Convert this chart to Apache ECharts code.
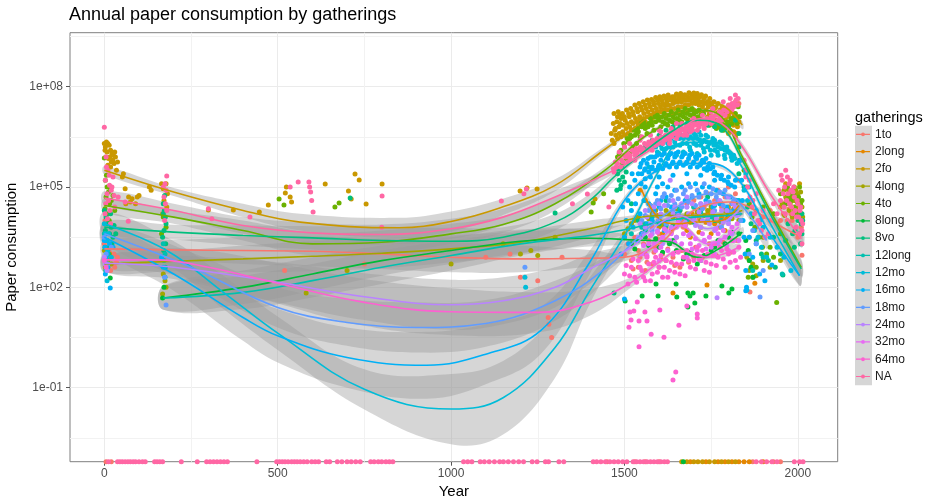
<!DOCTYPE html>
<html>
<head>
<meta charset="utf-8">
<script src="https://cdn.jsdelivr.net/npm/echarts@6.0.0/dist/echarts.min.js"></script>
<style>
  html, body { margin: 0; padding: 0; background: #fff; }
  #chart { width: 936px; height: 504px; }
</style>
</head>
<body>
<div id="chart"></div>
<script>
// groups and ggplot hue colours
const groups = ['1to', '2long', '2fo', '4long', '4to', '8long', '8vo', '12long', '12mo', '16mo', '18mo', '24mo', '32mo', '64mo', 'NA'];
const colors = ['#F8766D', '#E58700', '#C99800', '#A3A500', '#6BB100', '#00BA38', '#00BF7D', '#00C0AF', '#00BCD8', '#00B0F6', '#619CFF', '#B983FF', '#E76BF3', '#FD61D1', '#FF67A4'];

// all y values are log10(paper consumption)
const yMin = -3.214, yMax = 9.615;
const xMin = -99, xMax = 2115;
const yTicks = [-1, 2, 5, 8];
const yTickLabels = ['1e-01', '1e+02', '1e+05', '1e+08'];
const yMinor = [-2.5, 0.5, 3.5, 6.5, 9.5];
const xTicks = [0, 500, 1000, 1500, 2000];
const xMinor = [250, 750, 1250, 1750];

// ---- points [year, log10 paper] ----
const pts_1to = [[0,3.3],[3,2.9],[5,3.6],[8,2.8],[10,2.95],[12,2.6],[15,3.05],[18,2.5],[20,2.9],[25,2.7],[28,3.0],[30,2.6],[35,2.75],[2,4.0],[22,3.2],[38,2.9],
  [170,2.9],[175,2.6],[520,2.5],[750,2.7],[1100,2.9],[1170,3.0],[1200,2.3],[1250,2.2],[1320,2.9],[1280,1.1],[1282,0.9],[1290,0.5],
  [1500,3.0],[1510,3.3],[1520,2.8],[1530,3.5],[1540,3.1],[1550,3.6],[1560,3.0],[1570,3.4],[1580,3.8],[1590,3.2],[1600,3.6],[1610,3.0],[1620,3.9],[1630,3.3],[1640,4.1],[1650,3.5],[1660,4.3],[1670,3.8],[1680,4.5],[1690,4.0],[1700,4.6],[1710,4.2],[1720,4.7],[1730,4.4],[1740,4.8],[1750,4.3],[1760,4.6],[1770,4.9],[1780,4.4],[1790,4.7],[1800,5.0],[1810,4.5],[1820,4.8],[1830,5.2],
  [1540,2.6],[1560,2.5],[1580,2.7],[1600,2.6],[1620,2.8],[1640,2.9],[1660,2.6],[1680,3.0],[1700,2.9],[1862,1.86],
  [1525,2.55],[1545,2.9],[1565,2.75],[1585,3.05],[1605,2.85],[1625,3.15],[1645,2.65],[1665,3.1],[1685,2.75],[1705,3.2],[1725,2.9],[1745,3.3],[1765,2.95],[1785,3.35],[1805,3.05],[1825,3.4],
  [1555,3.3],[1595,3.45],[1635,3.65],[1675,3.9],[1715,4.05],[1755,4.15],[1795,4.25],
  [1790,7.3],[1800,7.45],[1810,7.35],[1820,7.55],[1830,7.5],[1815,7.2],[1795,7.15],
  [1860,3.5],[1880,3.8],[1900,4.1],[1920,4.3],[1940,3.9],[1960,4.5],[1980,4.2],[2000,3.5],[2012,2.96],[1970,4.0],[1990,4.7],
  [1950,4.0],[1958,4.2],[1966,4.6],[1974,4.35],[1984,4.0],[1994,4.3],[2004,4.0],[2010,3.8]];
const pts_2long = [[1545,4.9],[1560,4.6],[1580,4.3],[1600,4.0],[1610,3.6],[1620,3.8],[1640,4.1],[1660,3.9],[1680,3.7],[1690,3.5],[1700,4.0],[1720,3.8],[1740,4.2],[1750,3.6],[1760,3.9],[1780,4.1],[1790,3.7],[1800,4.4],[1820,4.6],[1830,4.2],
  [1575,4.45],[1595,4.15],[1615,3.95],[1635,3.75],[1655,4.05],[1675,3.85],[1695,4.2],[1715,3.65],[1735,3.95],[1755,4.25],[1775,3.8],[1795,4.05],[1815,4.35],
  [1640,1.83],[1738,2.07],[1876,2.12],[1870,2.6],[1950,4.4],[1980,4.7]];
const pts_2fo = [[0,6.3],[2,6.1],[3,6.2],[5,5.9],[6,6.35],[8,6.05],[10,6.3],[10,5.65],[12,5.85],[14,6.25],[16,5.9],[18,6.1],[18,5.6],[20,5.75],[22,6.0],[24,5.8],[26,5.95],[28,5.7],[30,6.05],[32,5.9],[35,5.5],[38,5.75],
  [52,5.3],[55,5.4],[60,4.95],[62,4.5],[70,4.7],[75,4.55],[80,4.65],[90,4.5],[95,4.7],[100,4.75],[130,5.0],[135,4.9],
  [165,5.1],[168,4.2],[170,4.95],[172,4.6],[178,5.1],[180,4.4],[182,4.8],
  [300,4.31],[372,4.31],[447,4.25],[473,4.46],[522,4.82],[525,5.0],[536,4.7],[540,4.55],[637,5.09],[704,4.88],[712,4.64],[723,5.39],[735,5.21],[755,4.49],[801,5.09],
  [1199,4.88],[1219,4.97],[1248,4.94],[1415,4.64],
  [1462,6.6],[1468,6.9],[1472,6.7],[1478,6.95],[1484,6.8],[1490,7.05],[1496,6.85],[1502,7.0],[1508,6.9],[1514,7.1],[1520,6.95],[1526,7.15],[1532,7.05],[1538,7.25],[1544,7.1],[1550,7.3],[1556,7.2],[1562,7.35],[1568,7.25],[1574,7.4],[1580,7.3],[1586,7.45],[1592,7.35],[1598,7.5],[1604,7.4],[1610,7.5],[1616,7.45],[1622,7.55],[1628,7.45],[1634,7.6],[1640,7.5],[1646,7.6],[1652,7.55],[1658,7.65],[1664,7.55],[1670,7.65],[1676,7.6],[1682,7.7],[1688,7.6],[1694,7.75],[1700,7.65],[1706,7.7],[1712,7.6],[1718,7.7],[1724,7.55],[1730,7.65],[1736,7.5],[1742,7.4],[1748,7.5],[1754,7.3],[1760,7.35],[1766,7.2],[1772,7.25],[1778,7.1],[1784,7.2],[1790,7.0],[1796,7.1],[1802,6.9],[1808,7.0],[1814,6.85],[1820,6.9],[1826,6.8],[1830,6.95],
  [1465,6.4],[1475,6.55],[1485,6.6],[1495,6.65],[1505,6.75],[1515,6.8],[1525,6.9],[1535,6.95],[1545,7.0],[1555,7.05],[1565,7.1],[1575,7.15],[1585,7.2],[1595,7.25],[1605,7.25],[1615,7.3],[1625,7.3],[1635,7.35],[1645,7.35],[1655,7.4],[1665,7.4],[1675,7.45],[1685,7.45],[1695,7.5],[1705,7.5],[1715,7.45],[1725,7.4],[1735,7.3],[1745,7.2],[1755,7.1],[1765,7.0],[1775,6.9],[1785,6.85],[1795,6.8],[1805,6.7],[1815,6.65],[1825,6.6],
  [1470,7.2],[1482,7.25],[1494,7.2],[1506,7.3],[1518,7.35],[1530,7.45],[1542,7.5],[1554,7.55],[1566,7.6],[1578,7.62],[1590,7.68],[1602,7.7],[1614,7.72],[1626,7.75],[1638,7.7],[1650,7.78],[1662,7.8],[1674,7.76],[1686,7.82],[1698,7.78],[1710,7.8],[1722,7.76],[1734,7.72],[1746,7.65],[1758,7.55],[1770,7.5],[1782,7.4],[1794,7.35],[1806,7.25],[1818,7.15],[1828,7.1],
  [1470,6.3],[1480,6.45],[1490,6.5],[1500,6.55],[1510,6.6],[1520,6.7],[1530,6.75],[1540,6.85],[1560,6.95],[1580,7.05],[1600,7.1],[1620,7.15],[1640,7.2],[1660,7.25],[1680,7.3],[1700,7.3],[1720,7.25],[1740,7.1],[1760,6.9],[1780,6.75],[1800,6.6],[1820,6.5],
  [1474,6.75],[1488,6.9],[1500,7.1],[1512,7.2],[1524,7.25],[1536,7.35],[1548,7.4],[1560,7.45],[1572,7.5],[1584,7.55],[1596,7.6],[1608,7.6],[1620,7.65],[1632,7.65],[1644,7.7],[1656,7.7],[1668,7.72],[1680,7.6],[1692,7.68],[1704,7.62],[1716,7.55],[1728,7.5],[1740,7.55],[1752,7.45],[1764,7.4],[1776,7.3],[1788,7.25],[1800,7.15],[1812,7.05],[1824,7.0],
  [1700,7.81],[1480,7.1],[1486,7.15],
  [1600,3.8],[1640,4.2],[1850,3.0],[1860,2.8],[1965,5.1],[1990,4.6],[2005,5.1],[1985,4.2]];
const pts_4long = [[0,3.1],[5,2.9],[10,2.8],[15,3.0],[3,2.6],[20,2.7],[170,2.4],[175,2.2],[178,2.0],[168,1.8],
  [582,1.83],[700,2.5],[1000,2.7],[1150,3.3],[1200,3.0],[1230,3.1],[1250,2.95],[1300,3.5],[1467,4.55],
  [1500,3.6],[1520,3.9],[1540,4.1],[1560,3.8],[1580,4.2],[1600,4.0],[1620,4.3],[1640,4.1],[1660,3.9],[1680,4.2],[1700,4.4],[1720,4.0],[1740,4.3],[1760,4.1],[1780,3.9],[1800,4.2],[1820,4.5],[1830,4.0],
  [1510,3.75],[1530,4.0],[1550,3.95],[1570,4.05],[1590,4.3],[1610,3.85],[1630,4.2],[1650,4.35],[1670,4.05],[1690,3.95],[1710,4.25],[1730,4.15],[1750,4.4],[1770,4.0],[1790,4.3],[1810,4.05],
  [1853,2.9],[1860,2.5],[1870,2.7],[1880,2.35],[1900,2.8],[1920,2.6],[1950,2.8],
  [1960,4.9],[1985,4.6],[2000,4.8],[1995,4.4],[2010,4.2],[1975,4.3],[1990,5.0],
  [1955,4.5],[1965,4.7],[1970,4.95],[1978,4.5],[1982,4.8],[1988,4.35],[1993,4.75],[1998,4.2],[2003,4.6],[2008,4.85],[2012,4.4],
  [1962,4.15],[1974,4.85],[1984,4.1],[1994,4.9],[2004,4.25],[2014,4.1]];
const pts_4to = [[0,5.87],[3,5.2],[8,5.0],[5,4.7],[12,4.85],[15,4.5],[2,4.35],[20,4.6],[10,4.2],[6,5.35],[18,4.95],[25,4.75],[30,4.3],[14,4.0],
  [170,4.1],[178,3.8],[165,3.6],
  [504,4.64],[518,4.46],[665,4.4],[677,4.52],[1404,4.25],[1410,4.52],[1440,4.8],
  [1480,5.9],[1490,6.1],[1500,6.2],[1510,6.35],[1520,6.5],[1530,6.55],[1540,6.65],[1550,6.8],[1560,6.75],[1570,6.9],[1580,6.85],[1590,6.95],[1600,7.0],[1610,6.95],[1620,7.05],[1630,7.0],[1640,7.1],[1650,7.05],[1660,7.15],[1670,7.1],[1680,7.2],[1690,7.15],[1700,7.2],[1710,7.1],[1720,7.15],[1730,7.0],[1740,7.05],[1750,6.9],[1760,6.95],[1770,6.8],[1780,6.9],[1790,6.75],[1800,6.85],[1810,6.9],[1820,7.2],[1828,7.4],[1832,7.1],
  [1495,5.7],[1505,5.85],[1515,6.0],[1525,6.2],[1535,6.3],
  [1545,6.5],[1565,6.6],[1585,6.7],[1605,6.8],[1625,6.85],[1645,6.9],[1665,6.95],[1685,7.0],[1705,7.0],[1725,6.95],[1745,6.85],[1765,6.75],[1785,6.7],[1805,6.7],[1825,6.9],
  [1515,6.45],[1535,6.6],[1555,6.95],[1575,7.05],[1595,7.15],[1615,7.2],[1635,7.25],[1655,7.3],[1675,7.35],[1695,7.35],[1715,7.3],
  [1485,6.0],[1498,6.3],[1508,6.45],[1518,6.55],[1528,6.7],[1538,6.75],[1548,6.9],[1558,6.85],[1568,6.8],[1578,6.95],[1588,7.1],[1598,7.05],[1608,7.1],[1618,6.9],[1628,7.15],[1638,6.95],[1648,7.2],[1658,7.0],[1668,7.25],[1678,7.05],[1688,7.3],[1698,7.1],[1708,7.25],[1718,7.05],[1728,7.2],[1738,6.95],[1748,7.05],[1758,6.85],[1768,6.95],[1778,6.75],[1788,6.85],[1798,6.95],[1808,7.05],[1818,7.1],
  [1857,2.3],[1870,2.3],[1880,2.6],[1900,3.5],[1930,2.9],[1939,1.55],
  [1845,5.5],[1852,5.0],[1860,4.5],[1868,4.1],[1876,3.8],[1888,3.5],[1898,3.2],[1910,3.0],
  [1900,4.4],[1930,4.2],[1950,4.8],[1970,5.0],[1980,4.6],[2005,5.0],[2008,4.5],[1995,4.2],[2010,3.9],[1950,3.6],[1920,3.2],
  [1960,4.4],[1975,4.7],[1990,4.4],[2002,4.7],[2012,4.6],[1966,4.5],[1986,4.8],[1998,4.55],[2008,4.2]];
const pts_8long = [[5,2.5],[17,2.28],[168,1.68],[172,2.0],
  [1502,1.59],[1551,1.74],[1591,2.1],[1597,1.74],[1649,2.1],[1651,1.71],[1683,1.83],[1689,1.74],[1698,1.83],[1703,1.53],[1683,1.41],[1735,1.74],[1781,2.04],[1801,1.83],[1810,1.95],
  [1520,3.3],[1560,3.5],[1600,3.2],[1640,3.4],[1680,3.0],[1720,2.8],[1760,3.2],[1800,3.5],[1830,3.6],
  [1530,3.15],[1550,3.6],[1570,3.25],[1590,3.45],[1610,3.05],[1630,3.3],[1650,3.1],[1670,2.85],[1690,3.05],[1710,2.7],[1730,2.95],[1750,3.1],[1770,3.4],[1790,3.3],[1810,3.65],
  [1857,3.1],[1871,2.3],[1860,2.8],[1850,3.4],[1865,2.6]];
const pts_8vo = [[0,4.3],[5,4.1],[10,3.9],[3,3.7],[15,3.6],[8,3.4],[20,3.8],[25,3.5],[2,3.2],[12,3.0],[6,2.5],[18,4.2],[28,3.85],[33,3.6],[22,3.3],[14,3.2],
  [170,4.5],[173,4.3],[176,4.1],[178,3.9],[172,3.7],[168,3.5],[174,4.75],[170,4.2],[177,3.3],[171,3.1],[709,4.67],[1300,4.22],
  [1480,5.4],[1485,5.2],[1490,5.05],[1495,5.3],[1500,5.15],[1488,4.95],[1482,5.55],[1505,5.45],[1478,4.9],[1492,5.6],[1470,1.83],
  [1520,4.5],[1540,4.0],[1560,3.7],[1580,4.4],[1600,3.9],[1620,4.6],[1640,3.85],[1660,4.3],[1680,4.65],[1700,3.95],[1720,4.35],[1740,4.7],[1760,4.0],[1780,4.5],[1800,4.15],[1820,4.55],
  [1560,6.2],[1580,6.4],[1600,6.55],[1620,6.7],[1640,6.8],[1660,6.85],[1680,6.9],[1700,6.95],[1720,6.9],[1740,6.85],[1760,6.8],[1780,6.7],[1800,6.8],[1820,7.0],[1830,6.6],[1830,6.2],[1832,5.8],[1830,5.4],
  [1845,5.0],[1855,4.4],[1865,3.9],[1880,3.4],[1895,3.0],[1915,2.8],[1935,2.6],[1965,3.4],[1985,3.6],[2000,4.0],[2012,3.6],
  [2012,4.2],[2010,3.9],[2005,3.6],[1990,3.2],[1950,3.0],[1930,3.5],[1957,2.37],[1972,3.9],[1992,3.7],[2008,3.3],[2014,4.0]];
const pts_12long = [[0,3.6],[5,3.4],[170,3.3],[175,3.0],[172,2.8],[176,2.6],
  [1500,3.5],[1550,3.8],[1600,4.0],[1650,4.2],[1700,4.4],[1750,4.1],[1800,4.3],[1830,4.6],
  [1520,3.6],[1560,3.9],[1580,4.1],[1620,3.85],[1660,4.35],[1680,4.0],[1720,4.25],[1760,4.45],[1780,4.0],[1820,4.35],
  [1870,2.5],[1900,2.9],[1955,2.4]];
const pts_12mo = [[0,3.9],[3,3.6],[6,3.4],[10,3.1],[2,2.8],[5,2.5],[8,2.2],[12,3.6],[20,2.9],[170,2.6],[175,2.3],[1213,2.3],[1215,2.0],
  [1590,6.2],[1600,6.4],[1610,6.3],[1620,6.5],[1630,6.4],[1640,6.6],[1650,6.5],[1660,6.6],[1670,6.45],[1680,6.6],[1690,6.5],[1700,6.6],[1710,6.45],[1720,6.55],[1730,6.4],[1740,6.5],[1750,6.35],[1760,6.4],[1770,6.2],[1780,6.3],
  [1600,6.0],[1620,6.15],[1640,6.2],[1660,6.25],[1680,6.3],[1700,6.3],[1720,6.25],[1740,6.2],[1760,6.1],[1790,6.1],[1580,5.9],[1570,5.6],
  [1595,6.05],[1605,6.25],[1615,6.1],[1625,6.3],[1635,6.45],[1645,6.35],[1655,6.7],[1665,6.55],[1675,6.7],[1685,6.45],[1695,6.7],[1705,6.55],[1715,6.65],[1725,6.35],[1735,6.55],[1745,6.3],[1755,6.45],[1765,6.25],[1775,6.35],[1785,6.15],[1795,6.2],[1805,6.0],[1815,5.95],
  [1650,5.95],[1670,6.05],[1690,6.1],[1710,6.0],[1730,6.05],[1750,5.95],[1770,5.95],[1790,5.85],[1810,5.8],
  [1598,6.35],[1608,6.15],[1618,6.4],[1628,6.2],[1638,6.55],[1648,6.25],[1658,6.45],[1668,6.3],[1678,6.5],[1688,6.2],[1698,6.45],[1708,6.25],[1718,6.4],[1728,6.15],[1738,6.35],[1748,6.1],[1758,6.25],[1768,6.05],[1778,6.15],[1788,5.95],[1798,6.05],[1808,5.9],[1818,5.85],[1825,5.7],
  [1845,4.9],[1855,4.6],[1865,4.2],[1875,3.7],[1885,3.5],[1895,3.2],[1910,2.9],
  [1850,5.4],[1860,5.0],[1870,4.6],[1880,4.3],[1890,4.0],[1900,3.8],[1920,3.5],[1940,3.2],[1960,2.9],[1980,2.5],[1853,1.92]];
const pts_16mo = [[0,3.4],[2,3.2],[5,2.9],[8,3.0],[17,1.98],[3,2.4],[10,2.6],[15,3.3],[25,3.2],[165,2.9],
  [1545,5.6],[1555,5.8],[1565,5.7],[1575,5.9],[1585,5.75],[1595,5.95],[1605,5.8],[1615,6.0],[1625,5.85],[1635,6.0],[1645,5.9],[1655,6.05],[1665,5.9],[1675,6.0],[1685,5.85],[1695,6.0],[1705,5.9],[1715,5.95],[1725,5.8],[1735,5.85],[1745,5.7],[1755,5.6],
  [1550,5.4],[1570,5.45],[1590,5.5],[1610,5.55],[1630,5.6],[1650,5.6],[1670,5.65],[1690,5.6],[1710,5.6],[1730,5.55],
  [1540,5.4],[1560,5.55],[1580,5.6],[1600,5.65],[1620,5.7],[1640,5.75],[1660,5.75],[1680,5.75],[1700,5.75],[1720,5.7],[1740,5.6],[1760,5.45],[1780,5.35],[1800,5.3],[1820,5.2],
  [1560,5.25],[1600,5.3],[1640,5.35],[1680,5.4],[1720,5.35],[1760,5.2],[1800,5.1],
  [1548,5.7],[1558,5.5],[1568,5.85],[1578,5.55],[1588,5.9],[1598,5.6],[1608,5.95],[1618,5.65],[1628,5.95],[1638,5.7],[1648,6.0],[1658,5.7],[1668,5.95],[1678,5.7],[1688,5.95],[1698,5.7],[1708,5.85],[1718,5.65],[1728,5.75],[1738,5.5],[1748,5.55],[1758,5.4],[1768,5.35],[1778,5.25],[1788,5.2],[1798,5.15],[1808,5.05],[1818,5.0],
  [1490,3.0],[1500,3.5],[1505,4.0],[1510,4.6],[1515,5.0],[1520,4.3],[1525,3.8],[1530,5.2],[1540,4.8],[1545,4.2],[1550,3.6],[1560,5.0],[1570,4.5],[1580,4.0],[1590,4.8],[1600,4.4],[1610,5.1],[1620,4.7],[1500,1.65],
  [1495,4.4],[1512,3.3],[1522,5.4],[1532,4.5],[1538,3.4],[1548,5.1],[1556,4.6],[1566,3.9],[1575,5.3],[1585,4.3],[1595,5.0],[1605,4.6],[1615,3.7],[1625,5.0],[1635,4.4],[1645,4.9],[1655,4.2],[1665,5.0],[1675,4.6],[1685,5.1],[1695,4.7],[1705,5.1],[1715,4.8],[1725,5.0],[1735,4.6],[1745,5.0],[1755,4.4],[1765,4.9],[1775,4.5],[1785,4.8],[1795,4.4],[1805,4.7],[1815,4.3],[1825,4.6],
  [1835,5.8],[1838,5.2],[1840,4.6],[1842,4.0],[1845,3.5],[1848,3.0],[1850,2.5],[1852,2.0],[1850,1.9],
  [1860,3.5],[1870,2.9],[1880,3.3],[1890,2.4],[1905,2.2],[1925,2.67]];
const pts_18mo = [[0,3.5],[5,3.0],[10,2.7],[20,3.2],[174,2.3],[178,1.47],[1213,2.6],
  [1550,4.0],[1570,4.3],[1590,4.5],[1610,4.7],[1630,4.6],[1650,4.9],[1670,4.8],[1690,5.0],[1710,4.9],[1730,5.1],[1750,4.8],[1770,4.6],[1790,4.9],[1810,4.5],[1830,4.2],
  [1600,4.1],[1640,4.3],[1680,4.4],[1720,4.5],[1760,4.3],[1800,4.0],[1580,3.7],[1620,3.9],[1660,4.0],[1700,4.1],[1740,4.0],[1780,3.8],
  [1560,4.15],[1575,4.45],[1585,4.2],[1595,4.6],[1605,4.35],[1615,4.8],[1625,4.45],[1635,4.75],[1645,4.5],[1655,4.65],[1665,4.4],[1675,4.9],[1685,4.55],[1695,4.75],[1705,4.45],[1715,4.7],[1725,4.35],[1735,4.85],[1745,4.55],[1755,4.95],[1765,4.7],[1775,4.85],[1785,4.45],[1795,4.7],[1805,4.25],[1815,4.6],[1825,4.4],[1835,4.0],
  [1891,1.71],[1860,3.0],[1880,3.3],[1900,2.5],[1870,3.7]];
const pts_24mo = [[0,2.9],[3,2.7],[8,2.5],
  [1540,3.5],[1560,3.8],[1580,3.6],[1600,4.0],[1620,3.7],[1640,4.2],[1660,3.9],[1680,4.4],[1700,4.0],[1720,3.8],[1740,4.1],[1760,3.7],[1780,4.3],[1800,3.9],[1820,4.4],
  [1560,4.3],[1600,4.5],[1640,4.6],[1680,4.7],[1720,4.5],[1760,4.5],[1800,4.7],[1610,3.3],[1650,3.5],[1690,3.6],[1730,3.4],[1770,3.3],[1810,3.6],
  [1545,3.9],[1555,3.6],[1565,4.1],[1575,3.9],[1585,4.4],[1595,3.7],[1605,4.2],[1615,4.45],[1625,4.0],[1635,3.8],[1645,4.4],[1655,4.15],[1665,4.5],[1675,3.95],[1685,4.2],[1695,4.5],[1705,3.85],[1715,4.25],[1725,4.0],[1735,4.5],[1745,3.9],[1755,4.25],[1765,4.05],[1775,4.6],[1785,3.95],[1795,4.3],[1805,4.1],[1815,4.5],[1825,4.15],
  [1767,1.69],[1632,5.2]];
const pts_32mo = [[1550,3.0],[1570,3.3],[1590,3.1],[1610,3.5],[1630,3.4],[1650,3.8],[1670,3.6],[1690,3.3],[1710,3.1],[1730,3.4],[1750,3.2],[1770,3.6],[1790,3.5],[1810,3.8],[1830,3.4],
  [1600,2.8],[1640,3.0],[1680,2.9],[1720,2.8],[1760,3.0],[1800,3.1],
  [1555,3.25],[1565,2.95],[1575,3.55],[1585,3.3],[1595,3.65],[1605,3.2],[1615,3.75],[1625,3.1],[1635,3.6],[1645,3.35],[1655,3.95],[1665,3.3],[1675,3.85],[1685,3.55],[1695,3.15],[1705,3.45],[1715,3.25],[1725,3.6],[1735,3.15],[1745,3.5],[1755,3.3],[1765,3.75],[1775,3.4],[1785,3.7],[1795,3.25],[1805,3.65],[1815,3.4],[1825,3.9]];
const pts_64mo = [[0,2.8],[5,2.6],
  [1500,2.4],[1510,2.1],[1520,2.6],[1530,2.3],[1540,2.8],[1550,2.5],[1560,2.2],[1570,2.7],[1580,2.4],[1590,2.9],[1600,2.6],[1610,2.3],[1620,2.8],[1630,2.5],[1640,3.0],[1650,2.7],[1660,2.4],[1670,2.9],[1680,3.1],[1690,2.6],[1700,2.8],[1710,3.2],[1720,2.9],[1730,2.5],[1740,3.0],[1750,2.7],[1760,3.3],[1770,2.9],[1780,3.1],[1790,2.6],[1800,3.0],[1810,3.4],[1820,2.8],[1830,3.2],
  [1505,2.65],[1515,2.35],[1525,2.85],[1535,2.15],[1545,2.6],[1555,2.3],[1565,2.9],[1575,2.2],[1585,2.75],[1595,2.45],[1605,2.95],[1615,2.6],[1625,2.3],[1635,2.75],[1645,2.45],[1655,3.05],[1665,2.7],[1675,2.35],[1685,2.8],[1695,3.0],[1705,2.55],[1715,2.85],[1725,3.1],[1735,2.75],[1745,2.45],[1755,2.95],[1765,2.65],[1775,3.2],[1785,2.85],[1795,3.15],[1805,2.75],[1815,3.05],[1825,2.6],[1835,2.9],
  [1516,1.26],[1519,1.02],[1513,0.81],[1527,1.29],[1537,1.56],[1559,1.26],[1542,0.99],[1565,0.99],[1577,0.6],[1542,0.22],[1602,1.32],[1614,0.51],[1657,0.87],[1648,-0.53],[1640,-0.77],[1680,1.44],[1710,1.2],[1710,1.08]];
const pts_NA = [[0,6.79],[5,5.9],[10,5.5],[3,5.2],[15,5.05],[8,4.8],[20,4.9],[25,5.3],[12,4.6],[30,4.4],[2,4.2],[18,3.9],[40,4.7],[60,4.55],[69,3.98],
  [6,5.6],[14,5.35],[22,5.0],[28,4.75],[4,4.5],[16,4.3],[9,4.05],
  [180,5.33],[175,5.1],[178,4.9],[172,4.7],[176,4.5],[180,4.3],[170,5.0],[174,4.0],
  [300,4.35],[310,4.05],[420,4.1],[536,5.0],[559,5.15],[590,5.15],[592,5.0],[595,4.85],[598,4.6],[602,4.25],[801,4.73],[800,3.8],
  [1145,4.58],[1210,4.8],[1217,4.94],[1350,4.5],[1393,4.79],[1455,4.4],
  [1468,5.55],[1474,5.75],[1480,5.7],[1486,5.85],[1492,5.8],[1498,5.95],[1504,5.9],[1510,6.0],[1516,5.95],[1522,6.1],[1528,6.05],[1534,6.15],[1540,6.1],[1546,6.2],[1552,6.15],[1558,6.3],[1564,6.25],[1570,6.35],[1576,6.3],[1582,6.4],[1588,6.35],[1594,6.45],[1600,6.4],[1606,6.5],[1612,6.45],[1618,6.55],[1624,6.5],[1630,6.6],[1636,6.55],[1642,6.65],[1648,6.6],[1654,6.7],[1660,6.65],[1666,6.75],[1672,6.7],[1678,6.8],[1684,6.75],[1690,6.85],[1696,6.8],[1702,6.9],[1708,6.85],[1714,6.95],[1720,6.9],[1726,7.0],[1732,6.95],[1738,7.05],[1744,7.0],[1750,7.1],[1756,7.05],[1762,7.15],[1768,7.15],[1774,7.25],[1780,7.2],[1786,7.3],[1792,7.3],[1798,7.4],[1804,7.4],[1810,7.5],[1816,7.5],[1822,7.6],[1828,7.65],
  [1500,6.2],[1550,6.5],[1600,6.7],[1650,6.9],[1700,7.05],[1750,7.25],[1530,5.8],[1580,6.1],[1630,6.3],[1680,6.55],[1730,6.75],[1780,7.0],
  [1470,5.45],[1490,5.6],[1510,5.75],[1530,5.95],[1550,6.05],[1570,6.15],[1590,6.25],[1610,6.3],[1630,6.4],[1650,6.45],[1670,6.55],[1690,6.65],[1710,6.7],[1730,6.85],[1750,6.9],[1770,7.0],[1790,7.15],[1810,7.3],[1826,7.45],
  [1485,6.05],[1515,6.3],[1545,6.4],[1575,6.55],[1605,6.65],[1635,6.75],[1665,6.9],[1695,7.0],[1725,7.15],[1755,7.35],[1785,7.55],[1805,7.65],[1820,7.75],
  [1476,5.6],[1496,5.75],[1516,5.85],[1536,6.0],[1556,6.1],[1576,6.2],[1596,6.3],[1616,6.4],[1636,6.5],[1656,6.55],[1676,6.65],[1696,6.7],[1716,6.8],[1736,6.9],[1756,6.95],[1776,7.1],[1796,7.25],[1816,7.4],
  [1845,5.8],[1850,5.3],[1855,5.0],[1862,4.7],[1868,4.4],[1875,4.2],[1885,4.0],[1895,3.7],[1905,3.5],[1915,3.6],
  [1945,4.9],[1955,5.2],[1962,5.0],[1968,4.6],[1972,4.8],[1978,5.2],[1982,4.4],[1988,5.0],[1992,4.3],[1998,4.6],[2002,4.1],[2008,4.4],[2012,3.7],
  [1952,5.35],[1958,4.8],[1964,4.2],[1976,4.5],[1986,4.85],[1996,4.1],[2006,4.3],[2014,3.9],
  [1965,5.5],[1970,5.3],[1975,5.1],[1980,4.9],[1950,4.6],[1960,4.4],[1990,4.7],[2000,4.5],[2010,4.0],[1940,4.2],[1985,4.2],[1995,3.8],[2005,3.6],[1930,4.5],[1920,4.0],[1900,4.3],[1880,4.8],[1860,5.2],[1850,5.5],[1870,4.6],[1890,3.9],[2012,3.3]];

// years of zero consumption (drawn on the bottom edge)
const zero_1to = [5,20,1450,1530,1560,1600,1870,1930,1950];
const zero_2long = [1690,1735,1770,1790,1810,1830,1845,1860,1900];
const zero_2fo = [1665,1680,1700,1712,1725,1745,1760,1780,1800,1820];
const zero_8long = [1670];
const zero_NA = [12,38,45,52,60,68,75,83,90,100,110,118,145,152,160,168,222,268,295,305,315,325,335,345,355,440,497,505,513,521,530,540,548,556,565,575,585,598,608,618,640,650,672,685,700,712,725,738,768,778,790,800,812,822,832,
  1036,1048,1060,1084,1096,1110,1125,1140,1151,1165,1180,1195,1209,1234,1248,1272,1281,1311,1325,1410,1420,1432,1445,1458,1470,1482,1495,1507,1525,1535,1545,1555,1565,1575,1585,1595,1605,1615,1624,1880,1895,1910,1925,1940,1990,2005,2015];

// ---- loess fits: years, fitted log10 value, half width of the band ----
const yr_1to = [0,200,400,600,800,1000,1200,1400,1500,1600,1650,1700,1750,1800,1850,1920,2010];
const fit_1to = [3.15,3.12,3.1,3.08,3.0,2.9,2.85,2.87,2.9,3.3,3.8,4.3,4.5,4.55,4.45,4.0,3.5];
const ci_1to = [0.25,0.3,0.4,0.45,0.45,0.45,0.4,0.25,0.12,0.08,0.07,0.07,0.07,0.08,0.15,0.2,0.3];
const yr_2long = [1550,1600,1650,1700,1780,1830];
const fit_2long = [4.9,4.05,3.9,3.95,4.0,4.45];
const ci_2long = [0.2,0.1,0.08,0.08,0.08,0.15];
const yr_2fo = [0,200,400,565,850,1000,1140,1300,1440,1520,1600,1700,1780,1840];
const fit_2fo = [5.5,4.85,4.3,3.95,3.78,3.97,4.37,5.05,6.1,6.7,7.3,7.57,7.45,6.85];
const ci_2fo = [0.12,0.12,0.2,0.25,0.3,0.3,0.25,0.18,0.1,0.07,0.06,0.06,0.07,0.12];
const yr_4long = [0,200,400,600,800,1000,1200,1400,1500,1600,1700,1800,1840];
const fit_4long = [2.7,2.78,2.85,2.93,3.02,3.15,3.35,3.75,4.0,4.15,4.15,4.2,4.3];
const ci_4long = [0.25,0.3,0.4,0.45,0.45,0.4,0.35,0.25,0.12,0.08,0.08,0.1,0.15];
const yr_4to = [0,200,400,600,800,1000,1150,1300,1450,1550,1650,1710,1780,1840,1920,2010];
const fit_4to = [4.45,4.1,3.7,3.3,3.35,3.6,3.88,4.5,5.55,6.45,7.05,7.3,7.1,5.9,4.3,2.6];
const ci_4to = [0.2,0.2,0.3,0.35,0.35,0.3,0.25,0.2,0.1,0.07,0.06,0.06,0.07,0.12,0.15,0.25];
const yr_8long = [170,400,600,800,1000,1200,1400,1520,1630,1710,1780,1840];
const fit_8long = [1.68,2.0,2.4,2.8,3.1,3.38,3.47,3.42,3.36,2.9,3.2,3.65];
const ci_8long = [0.35,0.5,0.5,0.45,0.4,0.35,0.25,0.15,0.1,0.1,0.1,0.15];
const yr_8vo = [0,200,400,600,800,1000,1150,1300,1400,1470,1550,1650,1710,1780,1840,1920,2010];
const fit_8vo = [3.8,3.65,3.55,3.48,3.4,3.38,3.5,3.95,4.6,5.3,6.0,6.75,7.0,6.8,5.8,4.2,2.55];
const ci_8vo = [0.2,0.22,0.3,0.35,0.4,0.4,0.3,0.25,0.2,0.12,0.08,0.06,0.06,0.07,0.12,0.15,0.25];
const yr_12long = [170,400,600,800,1000,1200,1400,1500,1600,1700,1800,1840];
const fit_12long = [1.68,1.85,2.2,2.6,2.95,3.3,3.55,3.72,3.95,4.1,4.15,4.2];
const ci_12long = [0.35,0.5,0.5,0.5,0.45,0.35,0.25,0.15,0.1,0.1,0.12,0.15];
const yr_12mo = [0,180,350,500,750,1000,1150,1300,1400,1520,1600,1660,1750,1820,1900,2005];
const fit_12mo = [3.9,3.1,1.8,0.63,-1.05,-1.64,-1.3,0.2,1.9,3.9,5.5,6.3,6.35,5.9,4.3,2.35];
const ci_12mo = [0.35,0.4,0.5,0.5,0.6,1.05,1.1,0.9,0.4,0.15,0.08,0.06,0.06,0.08,0.15,0.3];
const yr_16mo = [0,200,400,500,700,930,1100,1260,1400,1500,1580,1650,1750,1830,1920,2005];
const fit_16mo = [3.5,2.4,1.1,0.55,-0.1,-0.33,0.0,0.72,2.75,4.6,5.4,5.7,5.7,5.2,3.6,2.35];
const ci_16mo = [0.35,0.5,0.7,0.8,0.9,1.0,0.9,0.7,0.35,0.12,0.07,0.06,0.06,0.08,0.15,0.3];
const yr_18mo = [0,250,500,700,900,1100,1300,1450,1550,1650,1750,1800,1850,1910];
const fit_18mo = [3.6,2.6,1.4,0.95,0.8,0.92,1.6,2.6,3.6,4.4,4.8,4.75,4.3,3.4];
const ci_18mo = [0.3,0.45,0.6,0.7,0.75,0.7,0.6,0.35,0.12,0.08,0.07,0.08,0.12,0.25];
const yr_24mo = [0,200,500,750,1000,1150,1300,1400,1520,1580,1660,1740,1830];
const fit_24mo = [2.72,2.6,2.15,1.72,1.48,1.6,2.0,2.55,3.2,3.75,4.15,3.75,4.3];
const ci_24mo = [0.25,0.35,0.6,0.7,0.75,0.7,0.6,0.45,0.15,0.08,0.07,0.07,0.12];
const yr_32mo = [1540,1600,1660,1740,1830];
const fit_32mo = [2.9,3.4,3.85,3.3,3.8];
const ci_32mo = [0.2,0.1,0.08,0.08,0.15];
const yr_64mo = [0,150,300,500,750,1000,1250,1400,1520,1600,1660,1740,1830];
const fit_64mo = [2.82,2.82,2.6,2.12,1.55,1.27,1.25,1.55,2.15,2.75,3.1,2.9,3.2];
const ci_64mo = [0.25,0.35,0.5,0.6,0.7,0.7,0.6,0.4,0.15,0.08,0.07,0.07,0.12];
const yr_NA = [0,200,400,600,800,1000,1150,1300,1450,1550,1650,1720,1780,1840,1920,2010];
const fit_NA = [4.67,4.3,3.85,3.63,3.58,3.75,4.1,4.7,5.4,5.95,6.6,7.05,6.9,6.2,4.8,3.45];
const ci_NA = [0.2,0.2,0.25,0.3,0.3,0.3,0.25,0.2,0.12,0.08,0.06,0.06,0.07,0.12,0.15,0.25];

const points = {
  '1to': pts_1to, '2long': pts_2long, '2fo': pts_2fo, '4long': pts_4long, '4to': pts_4to, '8long': pts_8long, '8vo': pts_8vo,
  '12long': pts_12long, '12mo': pts_12mo, '16mo': pts_16mo, '18mo': pts_18mo, '24mo': pts_24mo, '32mo': pts_32mo, '64mo': pts_64mo, 'NA': pts_NA
};
const zeros = { '1to': zero_1to, '2long': zero_2long, '2fo': zero_2fo, '8long': zero_8long, 'NA': zero_NA };
const fits = {
  '1to': [yr_1to, fit_1to, ci_1to], '2long': [yr_2long, fit_2long, ci_2long], '2fo': [yr_2fo, fit_2fo, ci_2fo],
  '4long': [yr_4long, fit_4long, ci_4long], '4to': [yr_4to, fit_4to, ci_4to], '8long': [yr_8long, fit_8long, ci_8long],
  '8vo': [yr_8vo, fit_8vo, ci_8vo], '12long': [yr_12long, fit_12long, ci_12long], '12mo': [yr_12mo, fit_12mo, ci_12mo],
  '16mo': [yr_16mo, fit_16mo, ci_16mo], '18mo': [yr_18mo, fit_18mo, ci_18mo], '24mo': [yr_24mo, fit_24mo, ci_24mo],
  '32mo': [yr_32mo, fit_32mo, ci_32mo], '64mo': [yr_64mo, fit_64mo, ci_64mo], 'NA': [yr_NA, fit_NA, ci_NA]
};

const FONT = 'Liberation Sans, Arial, sans-serif';
const SMOOTH = 0.4;
const series = [];

// points layer first
groups.forEach((g, i) => {
  const data = points[g].concat((zeros[g] || []).map(y => [y, yMin]));
  series.push({
    type: 'scatter', name: g, data: data, symbolSize: 5, clip: false, silent: true,
    itemStyle: { color: colors[i], opacity: 1 }
  });
});

// band as one polygon: upper edge forward, lower edge back
function bandRenderer(rows) {
  return function (params, api) {
    if (params.dataIndex !== 0) return;
    const upper = rows.map(r => api.coord([r[0], r[2]]));
    const lower = rows.map(r => api.coord([r[0], r[1]])).reverse();
    return {
      type: 'polygon',
      shape: { points: upper.concat(lower), smooth: SMOOTH },
      style: { fill: 'rgba(153,153,153,0.4)' }
    };
  };
}

// smooth layer: band then line, group by group
groups.forEach((g, i) => {
  const [yr, fit, ci] = fits[g];
  const rows = yr.map((y, k) => [y, fit[k] - ci[k], fit[k] + ci[k]]);
  series.push({
    type: 'custom', name: g + '_band', silent: true, clip: true,
    data: rows, encode: { x: 0, y: [1, 2] },
    renderItem: bandRenderer(rows)
  });
  series.push({
    type: 'line', name: g + '_fit', smooth: SMOOTH, showSymbol: false, silent: true,
    data: yr.map((y, k) => [y, fit[k]]), lineStyle: { color: colors[i], width: 1.6 }
  });
});

const option = {
  animation: false,
  backgroundColor: '#ffffff',
  textStyle: { fontFamily: FONT },
  title: {
    text: 'Annual paper consumption by gatherings', left: 69, top: 6, padding: 0,
    textStyle: { fontFamily: FONT, fontSize: 18, fontWeight: 'normal', color: '#000' }
  },
  grid: {
    left: 70, top: 32.7, width: 767.7, height: 429, containLabel: false, outerBoundsMode: 'none',
    show: true, borderColor: '#7f7f7f', borderWidth: 1, backgroundColor: 'transparent'
  },
  legend: {
    data: groups.map(g => ({ name: g, icon: 'path://M0,1.5H16V2.9H0Z M5.8,2.2A2.2,2.2,0,1,1,10.2,2.2A2.2,2.2,0,1,1,5.8,2.2Z' })),
    orient: 'vertical', left: 856, top: 128.3, itemWidth: 14, itemHeight: 12, itemGap: 5.3, padding: 0,
    symbolKeepAspect: true, selectedMode: false,
    textStyle: { fontFamily: FONT, fontSize: 12, color: '#1a1a1a' }
  },
  graphic: [
    { type: 'rect', left: 855, top: 125.7, z: 0, shape: { width: 17, height: 259.5 }, style: { fill: '#d6d6d6' } },
    { type: 'text', left: 855, top: 110, z: 5, style: { text: 'gatherings', fontFamily: FONT, fontSize: 14.5, fill: '#000' } }
  ],
  xAxis: [
    {
      type: 'value', min: xMin, max: xMax, name: 'Year', nameLocation: 'middle', nameGap: 22,
      nameTextStyle: { fontFamily: FONT, fontSize: 15, color: '#000' },
      axisLine: { show: false, onZero: false },
      axisTick: { show: true, length: 4, customValues: xTicks, lineStyle: { color: '#555' } },
      axisLabel: { customValues: xTicks, margin: 6, fontFamily: FONT, fontSize: 12, color: '#4d4d4d', formatter: v => String(v) },
      splitLine: { show: true, lineStyle: { color: '#ebebeb', width: 1 } }
    },
    {
      type: 'value', min: xMin, max: xMax, position: 'bottom',
      axisLine: { show: false, onZero: false }, axisLabel: { show: false },
      axisTick: { show: false, customValues: xMinor },
      splitLine: { show: true, lineStyle: { color: '#f2f2f2', width: 1 } }
    }
  ],
  yAxis: [
    {
      type: 'value', min: yMin, max: yMax, name: 'Paper consumption', nameLocation: 'middle', nameGap: 51,
      nameMoveOverlap: false,
      nameTextStyle: { fontFamily: FONT, fontSize: 15, color: '#000' },
      axisLine: { show: false, onZero: false },
      axisTick: { show: true, length: 4, customValues: yTicks, lineStyle: { color: '#555' } },
      axisLabel: {
        customValues: yTicks, margin: 7, fontFamily: FONT, fontSize: 12, color: '#4d4d4d',
        formatter: v => yTickLabels[yTicks.indexOf(Math.round(v))] || ''
      },
      splitLine: { show: true, lineStyle: { color: '#ebebeb', width: 1 } }
    },
    {
      type: 'value', min: yMin, max: yMax, position: 'left',
      axisLine: { show: false, onZero: false }, axisLabel: { show: false },
      axisTick: { show: false, customValues: yMinor },
      splitLine: { show: true, lineStyle: { color: '#f2f2f2', width: 1 } }
    }
  ],
  series: series
};

const chart = echarts.init(document.getElementById('chart'), null, { renderer: 'canvas' });
chart.setOption(option);
</script>
</body>
</html>
